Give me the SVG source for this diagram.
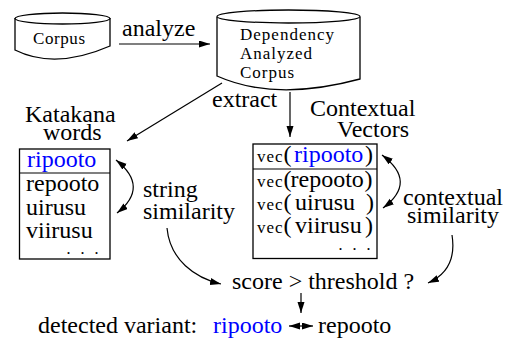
<svg xmlns="http://www.w3.org/2000/svg" width="513" height="338" viewBox="0 0 513 338">
<style>
text{font-family:"Liberation Serif",serif;fill:#000}
.big{font-size:24px}
.sm{font-size:17px}
.vec{font-size:17px;letter-spacing:1px}
.dots{font-size:12px;font-weight:bold}
.blue{fill:#0000ff}
.shape{fill:#fff;stroke:#000;stroke-width:1.3}
.conn{fill:none;stroke:#000;stroke-width:1.2}
</style>
<defs>
<marker id="ah" markerUnits="userSpaceOnUse" markerWidth="12" markerHeight="8" refX="11" refY="3.5" orient="auto-start-reverse">
<path d="M0,0 L11,3.5 L0,7 z" fill="#000"/>
</marker>
</defs>
<rect width="513" height="338" fill="#fff"/>

<g id="corpus">
<path class="shape" d="M15,18 L15,50 Q55,70 110,46 L110,18"/>
<ellipse class="shape" cx="62.5" cy="18.5" rx="47.5" ry="5.5"/>
<text class="sm" x="33" y="44" textLength="52">Corpus</text>
</g>

<g id="dep-corpus">
<path class="shape" d="M217,17 L217,76 Q275,102 360,79 L360,17"/>
<ellipse class="shape" cx="288.5" cy="16.5" rx="71.5" ry="6.5"/>
<text class="sm" x="240" y="40" textLength="94">Dependency</text>
<text class="sm" x="240" y="59" textLength="72">Analyzed</text>
<text class="sm" x="240" y="78" textLength="54">Corpus</text>
</g>

<g id="katakana">
<text class="big" x="25" y="122">Katakana</text>
<text class="big" x="43" y="140">words</text>
<rect class="shape" x="19.5" y="149" width="90.5" height="110"/>
<line class="conn" x1="19.5" y1="173" x2="110" y2="173" stroke-width="1.3"/>
<text class="big blue" x="27" y="167">ripooto</text>
<text class="big" x="26" y="191">repooto</text>
<text class="big" x="26" y="215">uirusu</text>
<text class="big" x="26" y="238">viirusu</text>
<text class="dots" x="67" y="254" textLength="31">. . .</text>
</g>

<g id="vectors">
<text class="big" x="310" y="116">Contextual</text>
<text class="big" x="337" y="137">Vectors</text>
<rect class="shape" x="253" y="144" width="124" height="114.5"/>
<line class="conn" x1="253" y1="169" x2="377" y2="169" stroke-width="1.3"/>
<text x="257" y="162"><tspan class="vec">vec</tspan><tspan class="big">(</tspan></text>
<text class="big blue" x="294" y="162">ripooto</text>
<text class="big" x="365" y="162">)</text>
<text x="257" y="187"><tspan class="vec">vec</tspan><tspan class="big">(</tspan></text>
<text class="big" x="290.5" y="187">repooto</text>
<text class="big" x="364.5" y="187">)</text>
<text x="257" y="210"><tspan class="vec">vec</tspan><tspan class="big">(</tspan></text>
<text class="big" x="295" y="210">uirusu</text>
<text class="big" x="366" y="210">)</text>
<text x="257" y="233"><tspan class="vec">vec</tspan><tspan class="big">(</tspan></text>
<text class="big" x="295" y="233">viirusu</text>
<text class="big" x="365" y="233">)</text>
<text class="dots" x="339" y="250" textLength="31">. . .</text>
</g>

<g id="labels">
<text class="big" x="122" y="36">analyze</text>
<text class="big" x="212" y="107">extract</text>
<text class="big" x="143" y="197">string</text>
<text class="big" x="143" y="219">similarity</text>
<text class="big" x="403" y="205">contextual</text>
<text class="big" x="407" y="223">similarity</text>
</g>

<g id="decision">
<text class="big" x="232" y="289">score &gt; threshold ?</text>
</g>

<g id="result">
<text class="big" x="38" y="333">detected variant:</text>
<text class="big blue" x="213" y="333">ripooto</text>
<text class="big" x="318" y="333">repooto</text>
</g>

<g id="connectors">
<line class="conn" x1="119" y1="44" x2="210" y2="44" marker-end="url(#ah)"/>
<line class="conn" x1="222" y1="83" x2="127" y2="141" marker-end="url(#ah)"/>
<line class="conn" x1="290" y1="92" x2="290" y2="137" marker-end="url(#ah)"/>
<path class="conn" d="M116,160 Q150,187 117,213" marker-start="url(#ah)" marker-end="url(#ah)"/>
<path class="conn" d="M382,155 Q418,182 383,208" marker-start="url(#ah)" marker-end="url(#ah)"/>
<path class="conn" d="M167,228 C170,260 195,278 221,284" marker-end="url(#ah)"/>
<path class="conn" d="M452,235 C456,260 446,275 428,283" marker-end="url(#ah)"/>
<line class="conn" x1="301" y1="293" x2="301" y2="313" marker-end="url(#ah)"/>
<line class="conn" x1="289" y1="326" x2="313" y2="326" marker-start="url(#ah)" marker-end="url(#ah)"/>
</g>
</svg>
